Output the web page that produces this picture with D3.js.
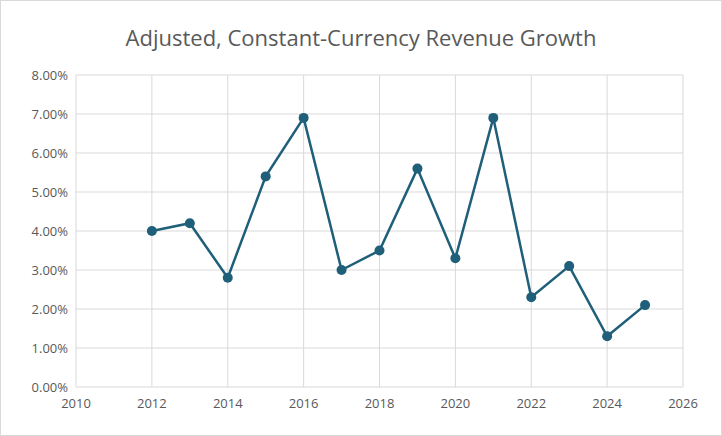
<!DOCTYPE html>
<html><head><meta charset="utf-8">
<script src="https://cdn.jsdelivr.net/npm/d3@7"></script>
<style>body{margin:0;background:#fff}text{font-family:"Open Sans",Arial,sans-serif}</style>
</head><body>
<svg id="c" width="722" height="436"></svg>
<script>
var years = [2012,2013,2014,2015,2016,2017,2018,2019,2020,2021,2022,2023,2024,2025];
var growth = [4.0,4.2,2.8,5.4,6.9,3.0,3.5,5.6,3.3,6.9,2.3,3.1,1.3,2.1];
var xTicks = [2010,2012,2014,2016,2018,2020,2022,2024,2026];
var yTicks = [0,1,2,3,4,5,6,7,8];

var svg = d3.select("#c");
svg.append("rect").attr("x",0.5).attr("y",0.5).attr("width",721).attr("height",435)
   .attr("fill","#fff").attr("stroke","#d9d9d9");

var x = d3.scaleLinear().domain([2010,2026]).range([76,683]);
var y = d3.scaleLinear().domain([0,8]).range([387,75]);

svg.selectAll(".vg").data(xTicks).enter().append("line")
   .attr("x1",x).attr("x2",x).attr("y1",y(0)).attr("y2",y(8))
   .attr("stroke","#d9d9d9");
svg.selectAll(".hg").data(yTicks).enter().append("line")
   .attr("x1",x(2010)).attr("x2",x(2026)).attr("y1",y).attr("y2",y)
   .attr("stroke","#d9d9d9");

svg.selectAll(".yl").data(yTicks).enter().append("text")
   .attr("x",x(2010)-8).attr("y",function(d){return y(d)+5;})
   .attr("text-anchor","end").attr("font-size",13).attr("fill","#595959")
   .text(function(d){return d.toFixed(2)+"%";});
svg.selectAll(".xl").data(xTicks).enter().append("text")
   .attr("x",x).attr("y",y(0)+21)
   .attr("text-anchor","middle").attr("font-size",13).attr("fill","#595959")
   .text(function(d){return d;});

var pts = years.map(function(d,i){return [d,growth[i]];});
svg.append("path").datum(pts)
   .attr("d",d3.line().x(function(d){return x(d[0]);}).y(function(d){return y(d[1]);}))
   .attr("fill","none").attr("stroke","#1f5f7a").attr("stroke-width",2.5);
svg.selectAll(".pt").data(pts).enter().append("circle")
   .attr("cx",function(d){return x(d[0]);}).attr("cy",function(d){return y(d[1]);})
   .attr("r",5).attr("fill","#1f5f7a");

svg.append("text").attr("x",361).attr("y",46).attr("text-anchor","middle")
   .attr("font-size",22).attr("fill","#595959")
   .text("Adjusted, Constant-Currency Revenue Growth");
</script>
</body></html>
